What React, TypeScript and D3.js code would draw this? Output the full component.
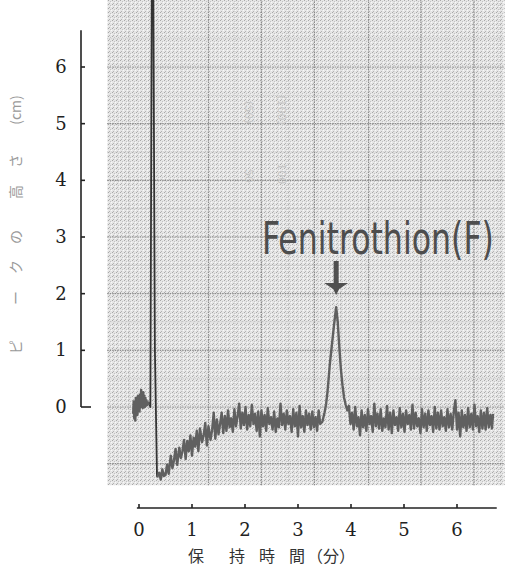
import React, { useLayoutEffect, useRef, useState } from 'react';
import * as d3 from 'd3';

const W = 508;
const H = 569;

// axis ticks
const yTicks = [0, 1, 2, 3, 4, 5, 6];
const xTicks = [0, 1, 2, 3, 4, 5, 6];

// recorder paper grid (cm / min), paper is offset from the time axis
const gridCm = [-1, 0, 1, 2, 3, 4, 5, 6];
const gridCmMinor = [-0.5, 0.5, 1.5, 2.5, 3.5, 4.5, 5.5, 6.5];
const gridMin = [1.31, 2.31, 3.31, 4.33, 5.32, 6.32];
const gridMinMinor = [-0.19, 0.81, 1.81, 2.81, 3.81, 4.81, 5.81, 6.81];

// trace: [retention time (min), peak height (cm)]
const preRun: [number, number][] = [
  [-0.11, -0.12], [-0.1, 0.1], [-0.09, -0.2], [-0.08, 0.05], [-0.07, -0.24], [-0.06, 0.16],
  [-0.05, -0.1], [-0.04, 0.12], [-0.03, -0.14], [-0.02, 0.2], [-0.01, -0.04], [0.0, 0.16],
  [0.01, -0.08], [0.02, 0.22], [0.03, 0.0], [0.04, 0.3], [0.05, 0.04], [0.06, 0.2],
  [0.07, -0.02], [0.08, 0.26], [0.09, 0.04], [0.1, 0.2], [0.11, 0.0], [0.12, 0.16],
  [0.13, 0.02], [0.14, 0.12], [0.16, 0.04], [0.18, 0.08], [0.2, 0.04],
];

const solventPeak: [number, number][] = [
  [0.2, 0.04], [0.215, 0.0], [0.245, 8.5], [0.265, 8.5], [0.3, 1.0], [0.34, -1.24],
];

const recovery: [number, number][] = [
  [0.34, -1.24], [0.38, -1.16], [0.41, -1.28], [0.44, -1.1], [0.47, -1.22], [0.5, -1.2],
  [0.53, -1.02], [0.56, -1.18], [0.6, -0.86], [0.63, -1.08], [0.66, -0.94], [0.69, -0.74],
  [0.72, -1.02], [0.76, -0.72], [0.79, -0.9], [0.82, -0.78], [0.85, -0.58], [0.88, -0.92],
  [0.91, -0.6], [0.94, -0.78], [0.97, -0.5], [1.0, -0.86], [1.03, -0.54], [1.06, -0.7],
  [1.09, -0.42], [1.12, -0.78], [1.15, -0.38], [1.19, -0.62], [1.22, -0.5], [1.25, -0.28],
  [1.28, -0.68], [1.31, -0.34], [1.35, -0.58], [1.38, -0.4], [1.41, -0.1], [1.44, -0.56],
  [1.47, -0.22], [1.5, -0.48], [1.53, -0.3], [1.56, -0.1], [1.59, -0.46], [1.62, -0.16],
  [1.65, -0.42], [1.68, -0.06], [1.71, -0.36], [1.74, -0.2], [1.77, -0.44], [1.8, -0.04],
  [1.83, -0.34], [1.86, -0.16], [1.89, 0.06], [1.92, -0.38], [1.95, -0.1], [1.98, -0.32],
  [2.01, 0.0], [2.04, -0.4], [2.07, -0.14], [2.1, -0.34], [2.13, 0.04], [2.16, -0.3],
  [2.19, -0.12], [2.22, -0.42], [2.25, -0.08], [2.28, -0.52],
];

const baselineA: [number, number][] = [
  [2.31, -0.06], [2.34, -0.34], [2.37, -0.14], [2.4, -0.42], [2.43, -0.02], [2.46, -0.3],
  [2.49, -0.18], [2.52, -0.4], [2.55, -0.08], [2.58, -0.44], [2.61, -0.2], [2.64, -0.36],
  [2.67, 0.06], [2.7, -0.32], [2.73, -0.12], [2.76, -0.4], [2.79, -0.06], [2.82, -0.3],
  [2.85, -0.16], [2.88, -0.44], [2.91, -0.04], [2.94, -0.34], [2.97, -0.1], [3.0, -0.52],
  [3.03, 0.02], [3.06, -0.36], [3.09, -0.16], [3.12, -0.44], [3.15, -0.06], [3.18, -0.32],
  [3.21, -0.12], [3.24, -0.4], [3.27, -0.08], [3.3, -0.36], [3.33, -0.18], [3.36, -0.42],
  [3.39, -0.06], [3.42, -0.3],
];

const fenitrothion: [number, number][] = [
  [3.46, -0.26], [3.5, -0.1], [3.53, 0.05], [3.56, 0.3], [3.6, 0.75], [3.64, 1.1],
  [3.68, 1.45], [3.72, 1.76], [3.75, 1.5], [3.78, 1.05], [3.81, 0.66], [3.84, 0.38],
  [3.87, 0.16], [3.9, 0.04], [3.93, -0.06],
];

const baselineB: [number, number][] = [
  [3.96, 0.02], [3.99, -0.3], [4.02, -0.1], [4.05, -0.4], [4.08, 0.0], [4.11, -0.34],
  [4.14, -0.18], [4.17, -0.5], [4.2, -0.06], [4.23, -0.36], [4.26, -0.14], [4.29, -0.42],
  [4.32, -0.04], [4.35, -0.3], [4.38, -0.16], [4.41, -0.44], [4.44, 0.06], [4.47, -0.34],
  [4.5, -0.12], [4.53, -0.38], [4.56, -0.04], [4.59, -0.42], [4.62, -0.2], [4.65, -0.36],
  [4.68, 0.02], [4.71, -0.4], [4.74, -0.1], [4.77, -0.46], [4.8, -0.06], [4.83, -0.32],
  [4.86, -0.18], [4.89, -0.42], [4.92, -0.02], [4.95, -0.36], [4.98, -0.12], [5.01, -0.44],
  [5.04, -0.06], [5.07, -0.3], [5.1, -0.14], [5.13, -0.4], [5.16, 0.04], [5.19, -0.38],
  [5.22, -0.1], [5.25, -0.34], [5.28, -0.2], [5.31, -0.46], [5.34, -0.04], [5.37, -0.36],
  [5.4, -0.12], [5.43, -0.42], [5.46, -0.06], [5.49, -0.32], [5.52, -0.16], [5.55, -0.44],
  [5.58, 0.0], [5.61, -0.38], [5.64, -0.1], [5.67, -0.4], [5.7, -0.06], [5.73, -0.34],
  [5.76, -0.18], [5.79, -0.42], [5.82, -0.04], [5.85, -0.36], [5.88, -0.12], [5.91, -0.4],
  [5.94, -0.08], [5.97, 0.12], [6.0, -0.4], [6.03, -0.1], [6.06, -0.52], [6.09, -0.06],
  [6.12, -0.36], [6.15, -0.14], [6.18, -0.42], [6.21, -0.02], [6.24, -0.36], [6.27, -0.12],
  [6.3, -0.4], [6.33, 0.04], [6.36, -0.34], [6.39, -0.16], [6.42, -0.44], [6.45, -0.06],
  [6.48, -0.38], [6.51, -0.1], [6.54, -0.4], [6.57, -0.02], [6.6, -0.36], [6.63, -0.14],
  [6.66, -0.38], [6.68, -0.12],
];

const peakName = 'Fenitrothion(F)';
const peakTime = 3.72;
// y title glyphs read bottom-to-top with their centre heights
const yTitle: [string, number][] = [
  ['ピ', 347], ['ー', 298], ['ク', 267], ['の', 237], ['高', 192], ['さ', 161], ['(cm)', 110],
];
const xTitle: [string, number][] = [
  ['保', 196], ['持', 237], ['時', 267], ['間', 297], ['（分）', 331],
];

const serif = "'DejaVu Serif', 'Liberation Serif', serif";
const cjk = "'Noto Sans CJK JP', sans-serif";

const App = () => {
  const labelRef = useRef<SVGTextElement>(null);
  const [sx, setSx] = useState(1);

  // squeeze the peak label to the width it has on the chart paper
  useLayoutEffect(() => {
    if (!labelRef.current) return;
    const len = labelRef.current.getComputedTextLength();
    if (len > 0) setSx(232 / len);
  }, []);

  const x = d3.scaleLinear().domain([0, 6]).range([139, 457]);
  const y = d3.scaleLinear().domain([0, 6]).range([407, 67]);

  const line = d3.line<[number, number]>()
    .x(d => x(d[0]))
    .y(d => y(d[1]));

  const mainTrace = [...recovery, ...baselineA, ...fenitrothion, ...baselineB];

  // paper area
  const px0 = x(-0.6), px1 = x(6.9);
  const py0 = y(7.2), py1 = y(-1.38);

  const ax = x(peakTime);

  return (
    <svg width={W} height={H} style={{ position: 'absolute', left: 0, top: 0, background: '#fff' }}>
      <defs>
        <pattern id="paper" width="4" height="4" patternUnits="userSpaceOnUse">
          <rect width="4" height="4" fill="#e6e6e6" />
          <rect x="0" y="0" width="1" height="1" fill="#a8a8a8" />
          <rect x="2" y="1" width="1" height="1" fill="#c2c2c2" />
          <rect x="1" y="3" width="1" height="1" fill="#b4b4b4" />
          <rect x="3" y="2" width="1" height="1" fill="#f8f8f8" />
        </pattern>
      </defs>

      {/* chart paper */}
      <rect x={px0} y={py0} width={px1 - px0} height={py1 - py0} fill="url(#paper)" />
      <g stroke="#c6c6c6" strokeWidth={1} strokeDasharray="1,1">
        {gridCmMinor.map(c => <line key={'hm' + c} x1={px0} x2={px1} y1={y(c)} y2={y(c)} />)}
        {gridMinMinor.map(t => <line key={'vm' + t} x1={x(t)} x2={x(t)} y1={py0} y2={py1} />)}
      </g>
      <g stroke="#8c8c8c" strokeWidth={1.2} strokeDasharray="1.5,1">
        {gridCm.map(c => <line key={'h' + c} x1={px0} x2={px1} y1={y(c)} y2={y(c)} />)}
        {gridMin.map(t => <line key={'v' + t} x1={x(t)} x2={x(t)} y1={py0} y2={py1} />)}
      </g>

      {/* faint bleed-through marks on the paper */}
      <g fill="#c4c4c4" fontSize={11} fontFamily={serif}>
        <text transform={`translate(${x(2.0)},${y(5.4)}) rotate(90)`}>(50)</text>
        <text transform={`translate(${x(2.0)},${y(4.2)}) rotate(90)`}>50</text>
        <text transform={`translate(${x(2.62)},${y(5.5)}) rotate(90)`}>(100)</text>
        <text transform={`translate(${x(2.62)},${y(4.3)}) rotate(90)`}>100</text>
      </g>

      {/* chromatogram trace */}
      <path d={line(preRun) || ''} fill="none" stroke="#606060" strokeWidth={2.4} strokeLinejoin="round" />
      <path d={line(solventPeak) || ''} fill="none" stroke="#333" strokeWidth={1.8} strokeLinejoin="round" />
      <path d={line(mainTrace) || ''} fill="none" stroke="#606060" strokeWidth={2.4} strokeLinejoin="round" />

      {/* peak annotation */}
      <g transform={`translate(262,254) scale(${sx},1)`}>
        <text ref={labelRef} x={0} y={0} fontFamily="'DejaVu Sans Condensed', 'Liberation Sans', sans-serif"
          fontSize={45} fill="#4d4d4d">{peakName}</text>
      </g>
      <g fill="#505050">
        <rect x={ax - 2.5} y={261} width={5} height={24} />
        <path d={`M${ax - 12},${283} L${ax + 12},${283} L${ax + 3},${289} L${ax},${295} L${ax - 3},${289} Z`} />
      </g>

      {/* y axis */}
      <g stroke="#222" strokeWidth={1.6} fill="none">
        <line x1={81} x2={81} y1={y(6.65)} y2={y(0)} />
        <line x1={81} x2={91} y1={y(0)} y2={y(0)} />
        {yTicks.slice(1).map(t => <line key={t} x1={81} x2={85} y1={y(t)} y2={y(t)} />)}
      </g>
      <g fontSize={18} fill="#222" textAnchor="middle" fontFamily={serif}>
        {yTicks.map(t => <text key={t} x={61} y={y(t) + 6}>{t}</text>)}
      </g>
      <g fill="#9a9a9a" fontSize={14} fontFamily={cjk} textAnchor="middle">
        {yTitle.map(([s, cy]) => (
          <text key={s} transform={`translate(21,${cy}) rotate(-90)`}>{s}</text>
        ))}
      </g>

      {/* x axis */}
      <g stroke="#222" strokeWidth={1.6} fill="none">
        <line x1={x(-0.04)} x2={x(6.75)} y1={508} y2={508} />
        {xTicks.map(t => <line key={t} x1={x(t)} x2={x(t)} y1={508} y2={504} />)}
      </g>
      <g fontSize={18} fill="#222" textAnchor="middle" fontFamily={serif}>
        {xTicks.map(t => <text key={t} x={x(t)} y={536}>{t}</text>)}
      </g>
      <g fontSize={16} fill="#333" fontFamily={cjk} textAnchor="middle">
        {xTitle.map(([s, cx]) => <text key={s} x={cx} y={562}>{s}</text>)}
      </g>
    </svg>
  );
};

export default App;
